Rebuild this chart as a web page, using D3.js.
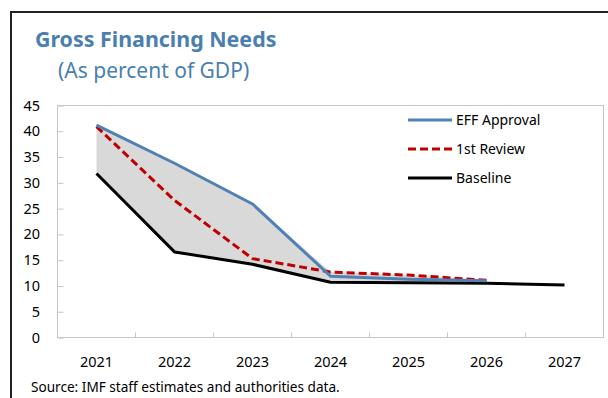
<!DOCTYPE html>
<html>
<head>
<meta charset="utf-8">
<script src="https://cdn.jsdelivr.net/npm/d3@7"></script>
<style>
  html, body { margin: 0; padding: 0; background: #fff; }
  svg { display: block; font-family: "Noto Sans", "Open Sans", sans-serif; }
</style>
</head>
<body>
<svg id="chart" width="608" height="398"></svg>
<script>
// Gross financing needs, percent of GDP
const years = ["2021", "2022", "2023", "2024", "2025", "2026", "2027"];
const effApproval = [41.2, 33.8, 25.9, 11.9, 11.3, 11.0];
const firstReview = [40.9, 26.6, 15.3, 12.7, 12.1, 11.1];
const baseline = [31.8, 16.6, 14.2, 10.7, 10.6, 10.5, 10.2];
const yTicks = [0, 5, 10, 15, 20, 25, 30, 35, 40, 45];

const seriesList = [
  { name: "EFF Approval", values: effApproval, color: "#4f81b4", dash: null },
  { name: "1st Review", values: firstReview, color: "#c00000", dash: "8,4" },
  { name: "Baseline", values: baseline, color: "#000000", dash: null }
];

const svg = d3.select("#chart");
const plot = { left: 57.5, right: 603.5, top: 105.5, bottom: 337.5 };

const xBand = d3.scaleBand().domain(years).range([plot.left, plot.right]).paddingInner(0).paddingOuter(0);
const xc = d => xBand(d) + xBand.bandwidth() / 2;
const y = d3.scaleLinear().domain([0, 45]).range([plot.bottom, plot.top]);

// outer frame (top and left rules)
svg.append("line").attr("x1", 11).attr("x2", 608).attr("y1", 12).attr("y2", 12)
  .attr("stroke", "#222").attr("stroke-width", 2);
svg.append("line").attr("x1", 11).attr("x2", 11).attr("y1", 11).attr("y2", 398)
  .attr("stroke", "#222").attr("stroke-width", 2);

// titles
svg.append("text").attr("x", 35).attr("y", 47)
  .attr("fill", "#4a7fb0").attr("font-weight", "bold").attr("font-size", 21.4)
  .text("Gross Financing Needs");
svg.append("text").attr("x", 58).attr("y", 78)
  .attr("fill", "#4a7fb0").attr("font-size", 21)
  .text("(As percent of GDP)");

// shaded range between the upper projections and the baseline
const rangeData = effApproval.map((v, i) => ({
  year: years[i],
  hi: Math.max(v, firstReview[i]),
  lo: baseline[i]
}));
svg.append("path").datum(rangeData)
  .attr("fill", "#d9d9d9")
  .attr("d", d3.area().x(d => xc(d.year)).y0(d => y(d.lo)).y1(d => y(d.hi)));

// plot frame
svg.append("rect")
  .attr("x", plot.left).attr("y", plot.top)
  .attr("width", plot.right - plot.left).attr("height", plot.bottom - plot.top)
  .attr("fill", "none").attr("stroke", "#c6c6c6").attr("stroke-width", 1);

// y axis (ticks point inward)
const yAxis = svg.append("g").attr("transform", `translate(${plot.left},0)`)
  .call(d3.axisRight(y).tickValues(yTicks).tickSize(6).tickFormat(""));
yAxis.select(".domain").remove();
yAxis.selectAll(".tick line").attr("stroke", "#c6c6c6");
svg.append("g").selectAll("text").data(yTicks).join("text")
  .attr("x", 40).attr("y", d => y(d)).attr("dy", "0.35em")
  .attr("text-anchor", "end").attr("font-size", 14.5).attr("fill", "#000")
  .text(d => d);

// x axis: tick marks on category boundaries, labels centred in bands
const xAxis = svg.append("g").attr("transform", `translate(0,${plot.bottom})`)
  .call(d3.axisTop(xBand).tickSize(0).tickFormat(""));
xAxis.select(".domain").remove();
svg.append("g").selectAll("line").data(years.slice(1)).join("line")
  .attr("x1", d => xBand(d)).attr("x2", d => xBand(d))
  .attr("y1", plot.bottom).attr("y2", plot.bottom - 5)
  .attr("stroke", "#c6c6c6");
svg.append("g").selectAll("text").data(years).join("text")
  .attr("x", d => xc(d)).attr("y", 366.5)
  .attr("text-anchor", "middle").attr("font-size", 14.5).attr("fill", "#000")
  .text(d => d);

// series lines
const line = d3.line().x((d, i) => xc(years[i])).y(d => y(d));
seriesList.slice().reverse().forEach(s => {
  svg.append("path").datum(s.values)
    .attr("fill", "none").attr("stroke", s.color).attr("stroke-width", 3)
    .attr("stroke-dasharray", s.dash)
    .attr("stroke-linejoin", "round")
    .attr("d", line);
});

// legend
const legend = svg.append("g");
seriesList.forEach((s, i) => {
  const ly = 120 + i * 29;
  legend.append("line").attr("x1", 408).attr("x2", 452).attr("y1", ly).attr("y2", ly)
    .attr("stroke", s.color).attr("stroke-width", 3).attr("stroke-dasharray", s.dash);
  legend.append("text").attr("x", 456).attr("y", ly).attr("dy", "0.35em")
    .attr("font-size", 14).attr("fill", "#000").text(s.name);
});

// source note
svg.append("text").attr("x", 31).attr("y", 392)
  .attr("font-size", 13.6).attr("fill", "#000")
  .text("Source: IMF staff estimates and authorities data.");
</script>
</body>
</html>
